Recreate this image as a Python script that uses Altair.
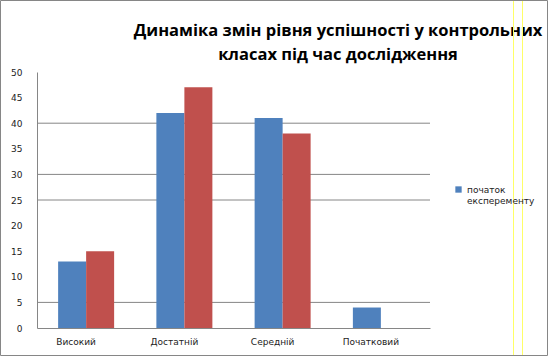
import altair as alt
import pandas as pd

categories = ["Високий", "Достатній", "Середній", "Початковий"]
series_names = ["початок експеременту", "кінець експерименту"]
start_values = [13, 42, 41, 4]
end_values = [15, 47, 38, 0]
y_ticks = [0, 5, 10, 15, 20, 25, 30, 35, 40, 45, 50]
grid_values = [5, 25, 30, 40]
title_lines = ["Динаміка змін рівня успішності у контрольних", "класах під час дослідження"]

rows = []
for c, v in zip(categories, start_values):
    rows.append({"cat": c, "series": series_names[0], "value": v})
for c, v in zip(categories, end_values):
    rows.append({"cat": c, "series": series_names[1], "value": v})
df = pd.DataFrame(rows)
grid_df = pd.DataFrame({"g": grid_values})
one_df = pd.DataFrame({"k": [0]})

W, H = 393, 256
AX = "#868686"
FONT = "DejaVu Sans"

y_scale = alt.Scale(domain=[0, 50], nice=False, zero=True)
y_axis = alt.Axis(title=None, values=y_ticks, grid=False, ticks=False,
                  labelOverlap=False, domainColor=AX, labelFont=FONT,
                  labelFontSize=9, labelColor="#222", labelPadding=15)

bars = alt.Chart(df).mark_bar().encode(
    x=alt.X("cat:N", sort=categories,
            scale=alt.Scale(paddingInner=0.43, paddingOuter=0.215),
            axis=alt.Axis(title=None, labelAngle=0, ticks=False, domainColor=AX,
                          labelFont=FONT, labelFontSize=9, labelColor="#222",
                          labelPadding=9, labelOffset=-10)),
    xOffset=alt.XOffset("series:N", sort=series_names),
    y=alt.Y("value:Q", scale=y_scale, axis=y_axis),
    color=alt.Color("series:N", sort=series_names,
                    scale=alt.Scale(domain=series_names, range=["#4F81BD", "#C0504D"]),
                    legend=alt.Legend(title=None, values=[series_names[0]],
                                      orient="none", legendX=417, legendY=113,
                                      symbolType="square", symbolSize=40,
                                      symbolStrokeWidth=0,
                                      labelFont=FONT, labelFontSize=9,
                                      labelColor="#222",
                                      labelExpr="split(datum.label, ' ')")),
)

grid = alt.Chart(grid_df).mark_rule(color=AX, strokeWidth=1).encode(
    y=alt.Y("g:Q", scale=y_scale, axis=y_axis)
)

title = alt.Chart(one_df).mark_text(
    text=title_lines, font="Open Sans", fontSize=16.5, fontWeight="bold",
    color="#000", align="center", baseline="alphabetic", lineHeight=24
).encode(x=alt.value(301), y=alt.value(-36))

border = alt.Chart(one_df).mark_rect(fill=None, stroke=AX, strokeWidth=1).encode(
    x=alt.value(-36.5), x2=alt.value(W + 117.5), y=alt.value(-71.5), y2=alt.value(H + 27.5)
)

yellow1 = alt.Chart(one_df).mark_rule(color="#FFFF66", strokeWidth=1).encode(
    x=alt.value(476.5), y=alt.value(-72), y2=alt.value(H + 28)
)
yellow2 = alt.Chart(one_df).mark_rule(color="#FFFF66", strokeWidth=1).encode(
    x=alt.value(485.5), y=alt.value(-72), y2=alt.value(H + 28)
)

chart = alt.layer(grid, bars, title, yellow1, yellow2, border).properties(
    width=W, height=H,
    autosize=alt.AutoSizeParams(type="none"),
    padding={"left": 37, "top": 72, "right": 118, "bottom": 28},
    background="white",
).configure_view(stroke=None)

chart.save("out.html", embed_options={"renderer": "svg", "actions": False})
